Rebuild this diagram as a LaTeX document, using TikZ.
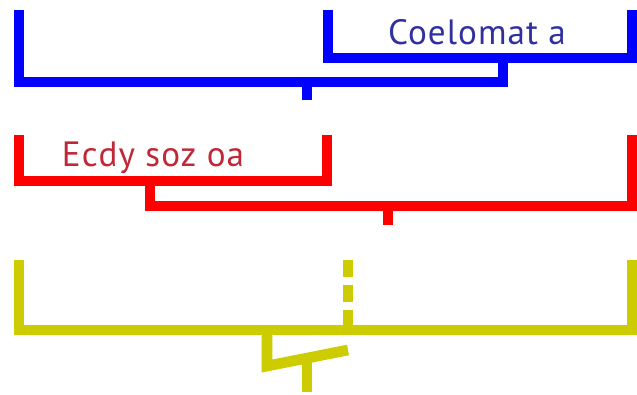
\documentclass[tikz,border=0pt]{standalone}
\usepackage{fontspec}
\setmainfont{PT Sans}
\usetikzlibrary{positioning}
\definecolor{CladBlue}{RGB}{0,0,255}
\definecolor{CladRed}{RGB}{255,0,0}
\definecolor{CladOlive}{RGB}{204,204,0}
\definecolor{CladBlueText}{RGB}{48,48,160}
\definecolor{CladRedText}{RGB}{192,40,56}
\tikzset{
  clad/branch/.style={
    line width=0.32cm,
    line cap=butt,
    line join=miter
  },
  clad/blue/.style={clad/branch, draw=CladBlue},
  clad/red/.style={clad/branch, draw=CladRed},
  clad/olive/.style={clad/branch, draw=CladOlive},
  clad/unsure/.style={clad/olive, dash pattern=on 0.51cm off 0.24cm},
  clad/label/.style={
    anchor=base,
    inner sep=0pt,
    font=\fontsize{30}{33}\selectfont\addfontfeatures{LetterSpace=3}
  }
}

\begin{document}
\begin{tikzpicture}[x=0.03cm,y=-0.03cm]
  \useasboundingbox (0,0) rectangle (637,395);

  % top tree: Coelomata as a clade
  \coordinate (b_leaf) at (19,10);
  \coordinate (b_corner) at (19,82);
  \coordinate (b_join) at (503,82);
  \coordinate (b_root) at (307,82);
  \coordinate (b_rootend) at (307,100);
  \coordinate (c_left) at (328,10);
  \coordinate (c_lcorner) at (328,58);
  \coordinate (c_mid) at (503,58);
  \coordinate (c_rcorner) at (632,58);
  \coordinate (c_right) at (632,10);
  \draw[clad/blue] (c_left) -- (c_lcorner) -- (c_rcorner) -- (c_right);
  \draw[clad/blue] (b_leaf) -- (b_corner) -- (b_join) -- (c_mid);
  \draw[clad/blue] (b_root) -- (b_rootend);
  \node[clad/label,text=CladBlueText] (coel) at (477,45) {Coelomat a};

  % middle tree: Ecdysozoa as a clade
  \coordinate (e_left) at (19,135);
  \coordinate (e_lcorner) at (19,181);
  \coordinate (e_mid) at (150,181);
  \coordinate (e_rcorner) at (327,181);
  \coordinate (e_right) at (327,135);
  \coordinate (r_corner) at (150,206);
  \coordinate (r_root) at (388,206);
  \coordinate (r_rootend) at (388,225);
  \coordinate (r_rcorner) at (632,206);
  \coordinate (r_leaf) at (632,135);
  \draw[clad/red] (e_left) -- (e_lcorner) -- (e_rcorner) -- (e_right);
  \draw[clad/red] (e_mid) -- (r_corner) -- (r_rcorner) -- (r_leaf);
  \draw[clad/red] (r_root) -- (r_rootend);
  \node[clad/label,text=CladRedText] (ecdy) at (153,167) {Ecdy soz oa};

  % bottom tree: unresolved
  \coordinate (y_left) at (19,260);
  \coordinate (y_lcorner) at (19,330);
  \coordinate (y_rcorner) at (632,330);
  \coordinate (y_right) at (632,260);
  \coordinate (y_dtop) at (348,260);
  \coordinate (y_dbot) at (348,330);
  \coordinate (y_kink) at (267,330);
  \coordinate (y_kinkbot) at (267,366);
  \coordinate (y_kinkend) at (348,350);
  \coordinate (y_root) at (307,360);
  \coordinate (y_rootend) at (307,392);
  \draw[clad/olive] (y_left) -- (y_lcorner) -- (y_rcorner) -- (y_right);
  \draw[clad/unsure] (y_dtop) -- (y_dbot);
  \draw[clad/olive] (y_kink) -- (y_kinkbot) -- (y_kinkend);
  \draw[clad/olive] (y_root) -- (y_rootend);
\end{tikzpicture}
\end{document}
